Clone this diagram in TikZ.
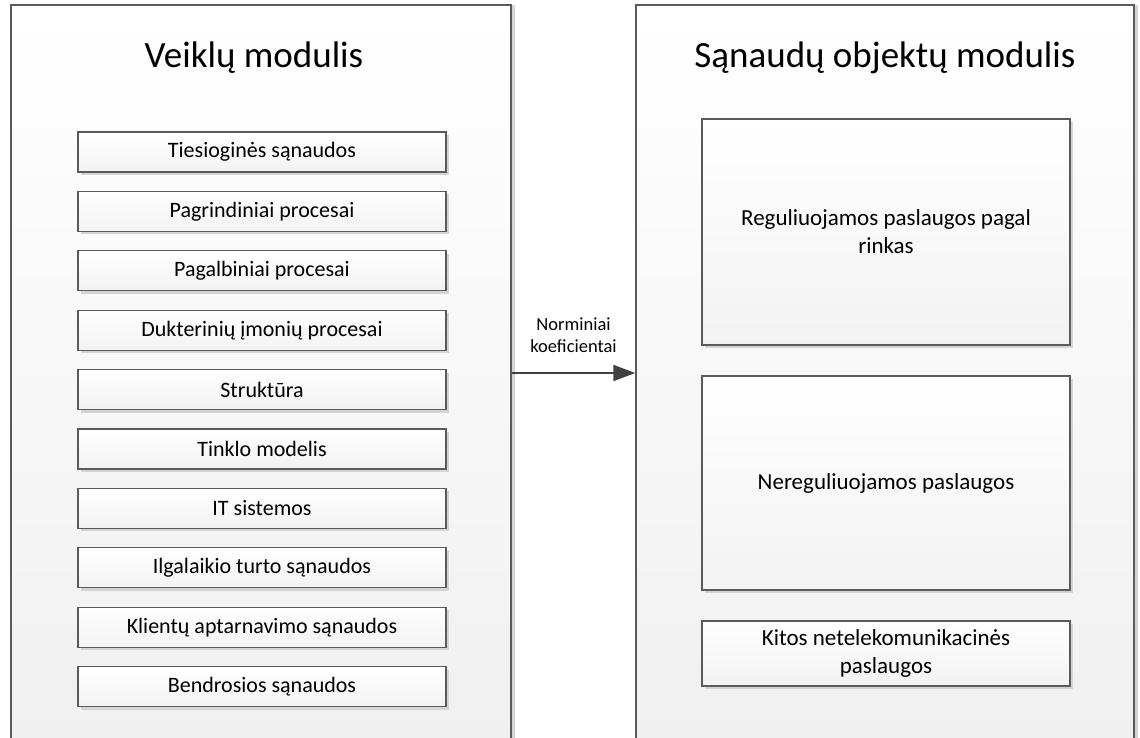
\documentclass[tikz,border=0pt]{standalone}
\usepackage{fontspec}
\setmainfont{Carlito}
\usetikzlibrary{shadows,arrows.meta}
\definecolor{edge}{HTML}{5A5A5A}
\definecolor{arrowc}{HTML}{404040}
\definecolor{shadowc}{HTML}{D4D4D4}
\begin{document}
\begin{tikzpicture}[x=1pt,y=-1pt,
  bigbox/.style={draw=edge, line width=1.5pt, top color=white, bottom color=gray!12,
    inner sep=0pt, minimum width=500pt, minimum height=755pt,
    drop shadow={shadow xshift=4pt, shadow yshift=0pt, fill=shadowc, opacity=1}},
  title/.style={font=\fontsize{37}{44}\selectfont, text=black},
  item/.style={draw=edge, line width=1.2pt, top color=white, bottom color=gray!10,
    inner sep=2pt, minimum width=368pt, minimum height=40pt,
    font=\fontsize{22}{27}\selectfont, align=center,
    drop shadow={shadow xshift=3pt, shadow yshift=-3pt, fill=shadowc, opacity=1}},
  bigitem/.style={item, font=\fontsize{23}{28}\selectfont},
  lbl/.style={font=\fontsize{18.5}{22}\selectfont, align=center}
]
\useasboundingbox (0,0) rectangle (1140,738);
\clip (0,0) rectangle (1140,738);

\node[bigbox] (L) at (261,382.5) {};
\node[bigbox, minimum width=498pt] (R) at (885,382.5) {};

\node[title] (tl) at (254,58) {Veiklų modulis};
\node[title] (tr) at (885,58) {Sąnaudų objektų modulis};

\foreach \t [count=\i from 0] in {Tiesioginės sąnaudos, Pagrindiniai procesai, Pagalbiniai procesai, Dukterinių įmonių procesai, Struktūra, Tinklo modelis, IT sistemos, Ilgalaikio turto sąnaudos, Klientų aptarnavimo sąnaudos, Bendrosios sąnaudos}
  \node[item] (b\i) at (262,{152+\i*59.4}) {\t};

\node[bigitem, minimum height=226pt] (r1) at (886,232) {Reguliuojamos paslaugos pagal\\rinkas};
\node[bigitem, minimum height=214pt] (r2) at (886,483) {Nereguliuojamos paslaugos};
\node[bigitem, minimum height=65pt] (r3) at (886,653.5) {Kitos netelekomunikacinės\\paslaugos};

\coordinate (ay) at (0,373);
\draw[-{Triangle[length=22pt,width=16pt]}, line width=2pt, draw=arrowc, fill=arrowc]
  (L.east |- ay) -- (R.west |- ay);
\node[lbl] (al) at (573.5,335) {Norminiai\\koeficientai};
\end{tikzpicture}
\end{document}
